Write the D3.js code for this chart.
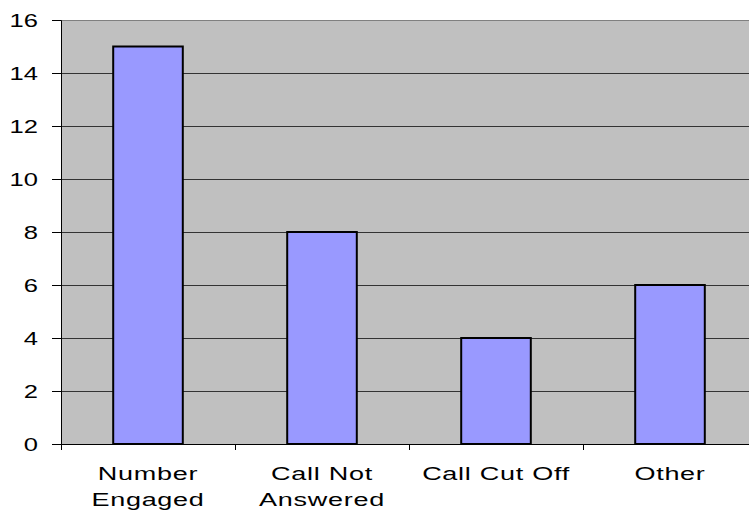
<!DOCTYPE html>
<html>
<head>
<meta charset="utf-8">
<script src="https://cdn.jsdelivr.net/npm/d3@7"></script>
<style>
  body { margin: 0; background: #fff; }
  svg { display: block; }
</style>
</head>
<body>
<svg id="chart" width="749" height="515"></svg>
<script>
var categories = [["Number", "Engaged"], ["Call Not", "Answered"], ["Call Cut Off"], ["Other"]]
var values = [15, 8, 4, 6]
var yTicks = [0, 2, 4, 6, 8, 10, 12, 14, 16]

var svg = d3.select("#chart")
var plotLeft = 61, plotTop = 20, plotBottom = 444
var band = 174
var plotRight = plotLeft + band * categories.length
var stretch = 1.42   // the original text is widened horizontally

var x = d3.scaleBand()
    .domain(d3.range(categories.length))
    .range([plotLeft, plotRight])
    .paddingInner(0.6)
    .paddingOuter(0.3)

var y = d3.scaleLinear().domain([0, 16]).range([plotBottom, plotTop])

// plot background
svg.append("rect")
    .attr("x", plotLeft).attr("y", plotTop)
    .attr("width", plotRight - plotLeft).attr("height", plotBottom - plotTop)
    .attr("fill", "#c0c0c0")

// gridlines
svg.selectAll(".grid")
    .data(yTicks.filter(function(d) { return d > 0 }))
    .enter().append("line")
    .attr("x1", plotLeft).attr("x2", plotRight)
    .attr("y1", function(d) { return Math.round(y(d)) + 0.5 })
    .attr("y2", function(d) { return Math.round(y(d)) + 0.5 })
    .attr("stroke", function(d) { return d == 16 ? "#808080" : "#333" })
    .attr("stroke-width", 1)

// bars
svg.selectAll(".bar")
    .data(values)
    .enter().append("rect")
    .attr("x", function(d, i) { return x(i) })
    .attr("y", function(d) { return y(d) })
    .attr("width", x.bandwidth())
    .attr("height", function(d) { return plotBottom - y(d) })
    .attr("fill", "#9999ff")
    .attr("stroke", "#000")
    .attr("stroke-width", 2)

// y axis
var yAxis = d3.axisLeft(y).tickValues(yTicks).tickSize(9).tickFormat("")
var gy = svg.append("g").attr("transform", "translate(" + plotLeft + ",0)").call(yAxis)
gy.select(".domain").attr("stroke", "#000")
gy.selectAll(".tick line").attr("stroke", "#000")

svg.selectAll(".ylab")
    .data(yTicks)
    .enter().append("text")
    .attr("transform", function(d) { return "translate(38," + (y(d) + 6.5) + ") scale(" + stretch + ",1)" })
    .attr("text-anchor", "end")
    .attr("font-family", "Liberation Sans, Arial, sans-serif")
    .attr("font-size", 18)
    .attr("fill", "#000")
    .text(function(d) { return d })

// x axis line and ticks at band boundaries
svg.append("line")
    .attr("x1", plotLeft).attr("x2", plotRight)
    .attr("y1", plotBottom + 0.5).attr("y2", plotBottom + 0.5)
    .attr("stroke", "#000")
svg.selectAll(".xtick")
    .data(d3.range(categories.length + 1))
    .enter().append("line")
    .attr("x1", function(i) { return plotLeft + i * band + 0.5 })
    .attr("x2", function(i) { return plotLeft + i * band + 0.5 })
    .attr("y1", plotBottom).attr("y2", plotBottom + 6)
    .attr("stroke", "#000")

// category labels
svg.selectAll(".cat")
    .data(categories)
    .enter().append("g")
    .attr("transform", function(d, i) { return "translate(" + (x(i) + x.bandwidth() / 2) + ",0) scale(1.46,1)" })
    .each(function(d) {
        var t = d3.select(this).append("text")
            .attr("text-anchor", "middle")
            .attr("font-family", "Liberation Sans, Arial, sans-serif")
            .attr("font-size", 18.5)
            .attr("letter-spacing", 0.5)
            .attr("fill", "#000")
        t.selectAll("tspan")
            .data(d)
            .enter().append("tspan")
            .attr("x", 0)
            .attr("y", function(s, j) { return 480.5 + j * 26 })
            .text(function(s) { return s })
    })
</script>
</body>
</html>
